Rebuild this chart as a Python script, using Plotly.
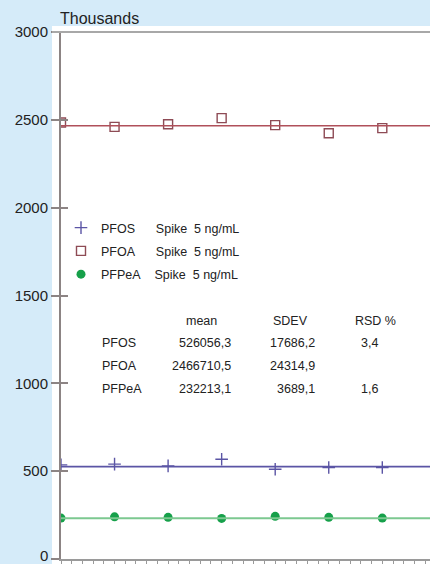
import plotly.graph_objects as go

# ---------------- data ----------------
runs = [1, 2, 3, 4, 5, 6, 7]
pfos = [536, 540, 530, 568, 511, 521, 521]          # thousands
pfoa = [2485, 2460, 2475, 2510, 2470, 2424, 2453]
pfpea = [233, 240, 237, 231, 243, 237, 233]
compounds = ["PFOS", "PFOA", "PFPeA"]
means = [526.0563, 2466.7105, 232.2131]             # thousands
spike_label = "Spike  5 ng/mL"
table_header = ["mean", "SDEV", "RSD %"]
mean_txt = ["526056,3", "2466710,5", "232213,1"]
sdev_txt = ["17686,2", "24314,9", "3689,1"]
rsd_txt = ["3,4", "", "1,6"]
y_ticks = [0, 500, 1000, 1500, 2000, 2500, 3000]
y_ticktext = ["0", "500", "1000", "1500", "2000", "2500", "3000"]

# ---------------- style ----------------
W, H = 430, 564
ML, MR, MT, MB = 61, 0, 32, 5
PW, PH = W - ML - MR, H - MT - MB
FONT = "Liberation Sans, Arial, Helvetica, sans-serif"
BG = "#d5ebf9"
AXC = "#8c8484"
colors = {"PFOS": "#5b55a5", "PFOA": "#8e4b55", "PFPeA": "#16a04a"}
line_colors = {"PFOS": "#5b55a5", "PFOA": "#b0505a", "PFPeA": "#7cc890"}
symbols = {"PFOS": "cross-thin-open", "PFOA": "square-open", "PFPeA": "circle"}
pad = {"PFOS": 6, "PFOA": 6, "PFPeA": 4}

def px_x(px):
    return (px - ML) / PW

def px_y(py):
    return (H - MB - py) / PH

series = {"PFOS": pfos, "PFOA": pfoa, "PFPeA": pfpea}

fig = go.Figure()

# mean lines
for name, m in zip(compounds, means):
    fig.add_trace(go.Scatter(
        x=[0.9, 9], y=[m, m], mode="lines", yaxis="y2",
        line=dict(color=line_colors[name], width=2 if name == "PFPeA" else 1.6),
        showlegend=False, hoverinfo="skip"))

# points
for name in compounds:
    sym = symbols[name]
    if name == "PFPeA":
        mk = dict(symbol=sym, size=9, color=colors[name])
    else:
        mk = dict(symbol=sym, size=9,
                  color=colors[name], line=dict(color=colors[name], width=1.4))
    fig.add_trace(go.Scatter(
        x=runs, y=series[name], mode="markers", marker=mk,
        name=name + "\u00a0" * pad[name] + spike_label,
        legendgroup=name))

# annotations
ann = []
rows_y = [343, 366, 389]
ann.append(dict(text="Thousands", xref="paper", yref="paper", x=px_x(58), y=1,
                xanchor="left", yanchor="bottom", yshift=3, showarrow=False,
                font=dict(family=FONT, size=16, color="#222")))
# bottom tick label (drawn as annotation so it is not dropped at the figure edge)
ann.append(dict(text=y_ticktext[0], xref="paper", yref="y", x=px_x(50), y=y_ticks[0],
                xanchor="right", yanchor="middle", yshift=4, showarrow=False,
                font=dict(family=FONT, size=15, color="#222")))
for txt, cx in zip(table_header, [201, 290, 375]):
    ann.append(dict(text=txt, xref="paper", yref="paper", x=px_x(cx), y=px_y(321),
                    xanchor="center", yanchor="middle", showarrow=False,
                    font=dict(family=FONT, size=12.5, color="#222")))
for i, name in enumerate(compounds):
    yy = px_y(rows_y[i])
    for txt, xx, anc in [(name, 100, "left"), (mean_txt[i], 233, "right"),
                         (sdev_txt[i], 317, "right"), (rsd_txt[i], 369, "center")]:
        if txt:
            ann.append(dict(text=txt, xref="paper", yref="paper", x=px_x(xx), y=yy,
                            xanchor=anc, yanchor="middle", showarrow=False,
                            font=dict(family=FONT, size=12.5, color="#222")))

shapes = [
    dict(type="rect", xref="paper", yref="paper", x0=px_x(52), x1=1.05,
         y0=-0.05, y1=px_y(26), fillcolor="white", line=dict(width=0), layer="below"),
    dict(type="line", xref="paper", yref="paper", x0=px_x(52), x1=1.05,
         y0=1, y1=1, line=dict(color="#a8a8a8", width=2), layer="above"),
]

fig.update_layout(
    width=W, height=H,
    margin=dict(l=ML, r=MR, t=MT, b=MB),
    paper_bgcolor=BG, plot_bgcolor="white",
    font=dict(family=FONT, color="#222"),
    xaxis=dict(range=[1, 1 + PW / 53.55], showgrid=False, zeroline=False,
               showticklabels=False, ticks="outside", tick0=1, dtick=0.2,
               ticklen=6, tickcolor="#9a9a9a", tickwidth=1,
               showline=True, linecolor="#9a9a9a", linewidth=1.5),
    yaxis=dict(range=[0, 3000], tickvals=y_ticks,
               ticktext=[""] + y_ticktext[1:], ticks="outside", ticklen=8,
               tickcolor=AXC, tickwidth=1.5, showline=True, linecolor=AXC,
               linewidth=2, showgrid=False, zeroline=False,
               tickfont=dict(family=FONT, size=15, color="#222")),
    yaxis2=dict(range=[0, 3000], overlaying="y", side="left", tickvals=y_ticks,
                ticks="inside", ticklen=7, tickcolor=AXC, tickwidth=1.5,
                showticklabels=False, showline=False, showgrid=False, zeroline=False),
    legend=dict(x=0, y=px_y(213), xanchor="left", yanchor="top",
                bgcolor="rgba(0,0,0,0)", font=dict(family=FONT, size=12.5, color="#222"),
                tracegroupgap=4, traceorder="grouped"),
    annotations=ann, shapes=shapes,
)

fig.write_html("out.html", config={"displayModeBar": False},
               post_script="document.body.style.margin='0';document.body.style.overflow='hidden';")
